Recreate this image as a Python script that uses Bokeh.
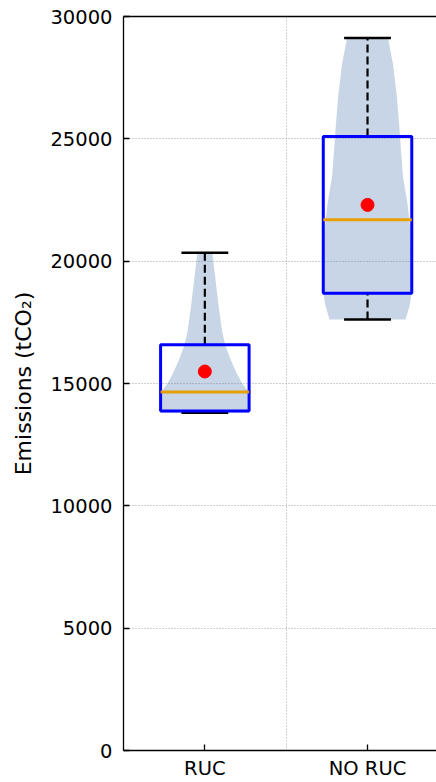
import numpy as np
from bokeh.plotting import figure
from bokeh.models import FixedTicker, LinearAxis, Range1d
from bokeh.embed import file_html
from bokeh.resources import INLINE

# ---- data ----
categories = ["RUC", "NO RUC"]
positions = [1, 2]
whisker_low = [13800, 17620]
q1 = [13880, 18690]
median = [14650, 21690]
q3 = [16580, 25100]
whisker_high = [20340, 29120]
means = [15490, 22300]

ruc_violin_y = [13800, 14200, 14650, 15000, 15400, 15950, 16500, 17050, 18100, 19500, 20340]
ruc_violin_halfwidth = [0.270, 0.270, 0.268, 0.230, 0.197, 0.160, 0.129, 0.108, 0.086, 0.061, 0.046]

noruc_violin_y = [17620, 18250, 18700, 19900, 21250, 22350, 23450, 24500, 25350, 26700, 28050, 29120]
noruc_violin_halfwidth = [0.234, 0.261, 0.270, 0.266, 0.264, 0.246, 0.218, 0.206, 0.197, 0.181, 0.157, 0.126]

y_ticks = [0, 5000, 10000, 15000, 20000, 25000, 30000]

FONT = "DejaVu Sans"
FS = "19.5px"

p = figure(width=436, height=782, x_range=Range1d(0.5, 2.424), y_range=Range1d(0, 30000),
           output_backend="svg", toolbar_location=None,
           min_border_left=123, min_border_right=0, min_border_top=16, min_border_bottom=32)
p.outline_line_color = None
p.background_fill_color = "white"
p.border_fill_color = "white"

# grid
p.xgrid.ticker = FixedTicker(ticks=[1.5])
p.ygrid.ticker = FixedTicker(ticks=y_ticks[1:-1])
for g in (p.xgrid, p.ygrid):
    g.grid_line_color = "#a0a0a0"
    g.grid_line_dash = "1 2"
    g.grid_line_width = 1

# violins
violins = [(ruc_violin_y, ruc_violin_halfwidth), (noruc_violin_y, noruc_violin_halfwidth)]
for pos, (vy, vhw) in zip(positions, violins):
    vy = np.array(vy, dtype=float)
    vhw = np.array(vhw, dtype=float)
    p.harea(y=vy, x1=pos - vhw, x2=pos + vhw, fill_color="#4573ad", fill_alpha=0.3)

pos_arr = np.array(positions, dtype=float)
box_hw = 0.272
cap_hw = 0.144

# whiskers
p.segment(x0=pos_arr, y0=q3, x1=pos_arr, y1=whisker_high, line_color="black",
          line_width=2.2, line_dash="8 4")
p.segment(x0=pos_arr, y0=whisker_low, x1=pos_arr, y1=q1, line_color="black",
          line_width=2.2, line_dash="8 4")
# caps
p.segment(x0=pos_arr - cap_hw, y0=whisker_high, x1=pos_arr + cap_hw, y1=whisker_high,
          line_color="black", line_width=2.5)
p.segment(x0=pos_arr - cap_hw, y0=whisker_low, x1=pos_arr + cap_hw, y1=whisker_low,
          line_color="black", line_width=2.5)
# boxes
p.quad(left=pos_arr - box_hw, right=pos_arr + box_hw, bottom=q1, top=q3,
       fill_color=None, line_color="#0000ff", line_width=3)
# medians
p.segment(x0=pos_arr - box_hw, y0=median, x1=pos_arr + box_hw, y1=median,
          line_color="#e69f00", line_width=3)
# means
p.scatter(x=pos_arr, y=means, size=13, fill_color="#ff0000", line_color="#ff0000")

# axes
p.xaxis.ticker = FixedTicker(ticks=positions)
p.xaxis.major_label_overrides = {pos: cat for pos, cat in zip(positions, categories)}
p.yaxis.ticker = FixedTicker(ticks=y_ticks)
p.yaxis.axis_label = "Emissions (tCO\u2082)"
p.yaxis.axis_label_text_font = FONT
p.yaxis.axis_label_text_font_size = "22px"
p.yaxis.axis_label_text_font_style = "normal"
p.yaxis.axis_label_text_color = "black"
p.yaxis.axis_label_standoff = 11
p.yaxis.major_label_standoff = 11
p.xaxis.major_label_standoff = 6
for ax in (p.xaxis, p.yaxis):
    ax.major_label_text_font = FONT
    ax.major_label_text_font_size = FS
    ax.major_label_text_color = "black"
    ax.major_tick_in = 6
    ax.major_tick_out = 0
    ax.minor_tick_in = 0
    ax.minor_tick_out = 0
    ax.axis_line_width = 1.3
    ax.major_tick_line_width = 1.3
    ax.axis_line_color = "black"
    ax.major_tick_line_color = "black"

top = LinearAxis(ticker=FixedTicker(ticks=[]), major_label_text_font_size="0px",
                 major_tick_in=0, major_tick_out=0, minor_tick_in=0, minor_tick_out=0,
                 major_label_standoff=0, axis_line_width=1.3, axis_line_color="black")
p.add_layout(top, "above")

open("out.html", "w").write(file_html(p, INLINE))
